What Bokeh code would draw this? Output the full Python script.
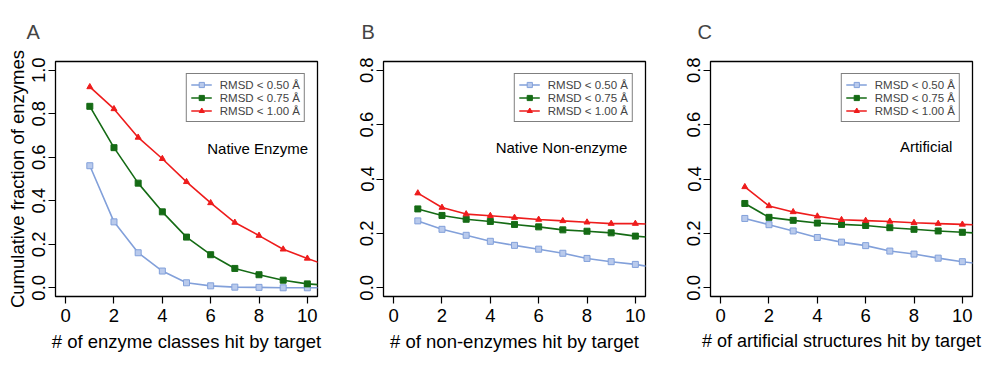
from bokeh.plotting import figure
from bokeh.layouts import row
from bokeh.models import Legend, LegendItem, FixedTicker, Range1d, CustomJSTickFormatter
from bokeh.embed import file_html
from bokeh.resources import INLINE
from bokeh.core.properties import value

# ---------------- data ----------------
x_hits = [1, 2, 3, 4, 5, 6, 7, 8, 9, 10, 11]

series_labels = ["RMSD < 0.50 \u00c5", "RMSD < 0.75 \u00c5", "RMSD < 1.00 \u00c5"]

a_050 = [0.561, 0.303, 0.161, 0.077, 0.023, 0.009, 0.003, 0.002, 0.000, 0.000, 0.000]
a_075 = [0.834, 0.644, 0.481, 0.349, 0.233, 0.152, 0.089, 0.060, 0.035, 0.018, 0.010]
a_100 = [0.923, 0.822, 0.691, 0.593, 0.487, 0.390, 0.300, 0.240, 0.177, 0.135, 0.095]

b_050 = [0.246, 0.215, 0.193, 0.171, 0.156, 0.142, 0.127, 0.108, 0.096, 0.086, 0.072]
b_075 = [0.290, 0.266, 0.252, 0.244, 0.233, 0.224, 0.213, 0.208, 0.202, 0.190, 0.183]
b_100 = [0.348, 0.295, 0.271, 0.265, 0.258, 0.251, 0.246, 0.241, 0.236, 0.236, 0.233]

c_050 = [0.255, 0.232, 0.209, 0.185, 0.168, 0.155, 0.135, 0.124, 0.109, 0.096, 0.085]
c_075 = [0.310, 0.259, 0.248, 0.238, 0.233, 0.229, 0.221, 0.215, 0.209, 0.204, 0.199]
c_100 = [0.371, 0.301, 0.279, 0.263, 0.250, 0.247, 0.244, 0.239, 0.236, 0.233, 0.230]

x_ticks = [0, 2, 4, 6, 8, 10]
y_ticks_a = [0.0, 0.2, 0.4, 0.6, 0.8, 1.0]
y_ticks_bc = [0.0, 0.2, 0.4, 0.6, 0.8]

panel_letters = ["A", "B", "C"]
x_titles = ["# of enzyme classes hit by target",
            "# of non-enzymes hit by target",
            "# of artificial structures hit by target"]
y_title_a = "Cumulative fraction of enzymes"
panel_notes = ["Native Enzyme", "Native Non-enzyme", "Artificial"]
note_pos = [(10.03, 0.64), (9.67, 0.517), (9.59, 0.521)]

FONT = "Liberation Sans"
COLORS = ["#82a0da", "#156b15", "#ee1c1c"]
FILLS = ["#b9caec", "#156b15", "#ee1c1c"]
MARKERS = ["square", "square", "triangle"]


def make_panel(idx, ys, y_max, y_ticks, b_left, b_right, title_offset, xlab_size, y_label=None):
    p = figure(frame_width=262, frame_height=235, output_backend="svg", toolbar_location=None,
               min_border_left=b_left, min_border_right=b_right,
               min_border_top=60, min_border_bottom=55,
               x_range=Range1d(-0.42, 10.42),
               y_range=Range1d(-0.04 * y_max, 1.04 * y_max))
    p.xgrid.visible = False
    p.ygrid.visible = False
    p.outline_line_color = "black"
    p.outline_line_width = 1.3
    p.background_fill_color = "white"
    p.border_fill_color = "white"

    items = []
    for k in range(3):
        r1 = p.line(x_hits, ys[k], line_color=COLORS[k], line_width=1.6)
        r2 = p.scatter(x_hits[:10], ys[k][:10], marker=MARKERS[k], size=6,
                       fill_color=FILLS[k], line_color=COLORS[k], line_width=1)
        items.append(LegendItem(label=series_labels[k], renderers=[r1, r2]))

    leg = Legend(items=items, location="top_right")
    leg.border_line_color = "black"
    leg.border_line_width = 1.3
    leg.label_text_font = FONT
    leg.label_text_font_size = "11.5px"
    leg.label_height = 13
    leg.glyph_height = 13
    leg.glyph_width = 21
    leg.spacing = 0
    leg.padding = 4
    leg.margin = 12
    leg.label_standoff = 8
    leg.background_fill_alpha = 1
    p.add_layout(leg)

    p.text(x=[note_pos[idx][0]], y=[note_pos[idx][1]],
           text=[panel_notes[idx]], text_font=value(FONT), text_font_size="15px",
           text_align="right", text_baseline="middle", text_color="black")

    for ax in (p.xaxis[0], p.yaxis[0]):
        ax.axis_line_color = None
        ax.major_tick_line_color = "black"
        ax.major_tick_line_width = 1.2
        ax.major_tick_out = 7
        ax.major_tick_in = 0
        ax.minor_tick_line_color = None
        ax.major_label_text_font = FONT
        ax.major_label_text_font_size = "18.5px"
        ax.major_label_text_color = "black"
        ax.axis_label_text_font = FONT
        ax.axis_label_text_font_size = xlab_size
        ax.axis_label_text_font_style = "normal"
        ax.axis_label_text_color = "black"

    p.xaxis.ticker = FixedTicker(ticks=x_ticks)
    p.yaxis.ticker = FixedTicker(ticks=y_ticks)
    p.yaxis.formatter = CustomJSTickFormatter(code="return tick.toFixed(1);")
    p.yaxis.major_label_orientation = "vertical"
    p.xaxis.major_label_standoff = 5
    p.yaxis.major_label_standoff = 3
    p.xaxis.axis_label = x_titles[idx]
    p.xaxis.axis_label_standoff = 6
    if y_label:
        p.yaxis.axis_label = y_label
        p.yaxis.axis_label_standoff = 2

    p.title.text = panel_letters[idx]
    p.title.text_font = FONT
    p.title.text_font_size = "20px"
    p.title.text_font_style = "normal"
    p.title.align = "left"
    p.title.offset = title_offset
    p.title.standoff = 37
    return p


pa = make_panel(0, [a_050, a_075, a_100], 1.0, y_ticks_a, 55, 23, -29, "18.5px", y_title_a)
pb = make_panel(1, [b_050, b_075, b_100], 0.8, y_ticks_bc, 43, 21, -22, "18.5px")
pc = make_panel(2, [c_050, c_075, c_100], 0.8, y_ticks_bc, 44, 12, -13, "18px")

layout = row(pa, pb, pc)
open("out.html", "w").write(file_html(layout, INLINE))
